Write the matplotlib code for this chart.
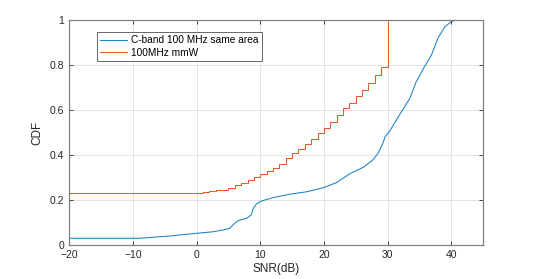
import matplotlib
matplotlib.use("Agg")
import matplotlib.pyplot as plt

plt.rcParams['font.family'] = ['Liberation Sans', 'DejaVu Sans']

# C-band 100 MHz same area
blue_snr = [-20, -9, -4.2, -2.6, 0, 2.6, 4.2, 5.2, 6.0, 6.5, 7.85, 8.6, 8.9, 9.4, 10.2,
            12.0, 14.6, 17.3, 19.9, 22.0, 24.1, 26.2, 27.7, 28.5, 28.8, 29.3, 29.6,
            30.3, 30.9, 32.2, 33.5, 34.5, 35.8, 36.9, 37.9, 39.0, 40.0, 40.6, 41.8]
blue_cdf = [0.030, 0.030, 0.040, 0.045, 0.052, 0.059, 0.067, 0.074, 0.097, 0.108, 0.119,
            0.134, 0.163, 0.183, 0.196, 0.211, 0.226, 0.237, 0.255, 0.278, 0.318, 0.346,
            0.379, 0.408, 0.425, 0.455, 0.482, 0.505, 0.534, 0.594, 0.653, 0.727, 0.794,
            0.846, 0.920, 0.972, 0.995, 1.0, 1.0]

# 100MHz mmW (step CDF at integer dB)
orange_snr = [-20, 0, 1, 2, 3, 4, 5, 6, 7, 8, 9, 10, 11, 12, 13, 14, 15, 16, 17, 18, 19,
              20, 21, 22, 23, 24, 25, 26, 27, 28, 29, 30]
orange_cdf = [0.232, 0.232, 0.234, 0.240, 0.243, 0.247, 0.255, 0.265, 0.278, 0.290, 0.305,
              0.318, 0.328, 0.342, 0.362, 0.386, 0.409, 0.426, 0.450, 0.471, 0.497, 0.520,
              0.549, 0.579, 0.609, 0.634, 0.664, 0.690, 0.720, 0.757, 0.794, 1.0]

labels = ['C-band 100 MHz same area', '100MHz mmW']
xticks = [-20, -10, 0, 10, 20, 30, 40]
yticks = [0, 0.2, 0.4, 0.6, 0.8, 1]
yticklabels = ['0', '0.2', '0.4', '0.6', '0.8', '1']

fig = plt.figure(figsize=(5.34, 2.79), dpi=100)
ax = fig.add_axes([0.1298, 0.1219, 0.7747, 0.8047])

ax.plot(blue_snr, blue_cdf, color=(0.1, 0.5, 0.78), lw=0.75, label=labels[0])
ax.step(orange_snr, orange_cdf, where='post', color=(0.87, 0.37, 0.16), lw=0.75,
        label=labels[1])

ax.set_xlim(-20, 45)
ax.set_ylim(0, 1)
ax.set_xticks(xticks)
ax.set_yticks(yticks)
ax.set_yticklabels(yticklabels)
ax.grid(True, color='#e3e3e3', lw=0.7)
ax.set_axisbelow(True)
ax.tick_params(direction='in', top=True, right=True, labelsize=7.5, colors='#262626',
               length=3, width=0.6)
for s in ax.spines.values():
    s.set_color('#808080')
    s.set_linewidth(0.9)
ax.set_xlabel('SNR(dB)', fontsize=8.5, color='#262626', labelpad=2)
ax.set_ylabel('CDF', fontsize=8.5, color='#262626', labelpad=5)

leg = ax.legend(loc='upper left', bbox_to_anchor=(0.067, 0.947), fontsize=7.3,
                frameon=True, fancybox=False, handlelength=2.7, borderaxespad=0,
                borderpad=0.3, labelspacing=0.25, handletextpad=0.35)
leg.get_frame().set_edgecolor('#404040')
leg.get_frame().set_linewidth(0.7)

fig.savefig('out.png', dpi=100)
